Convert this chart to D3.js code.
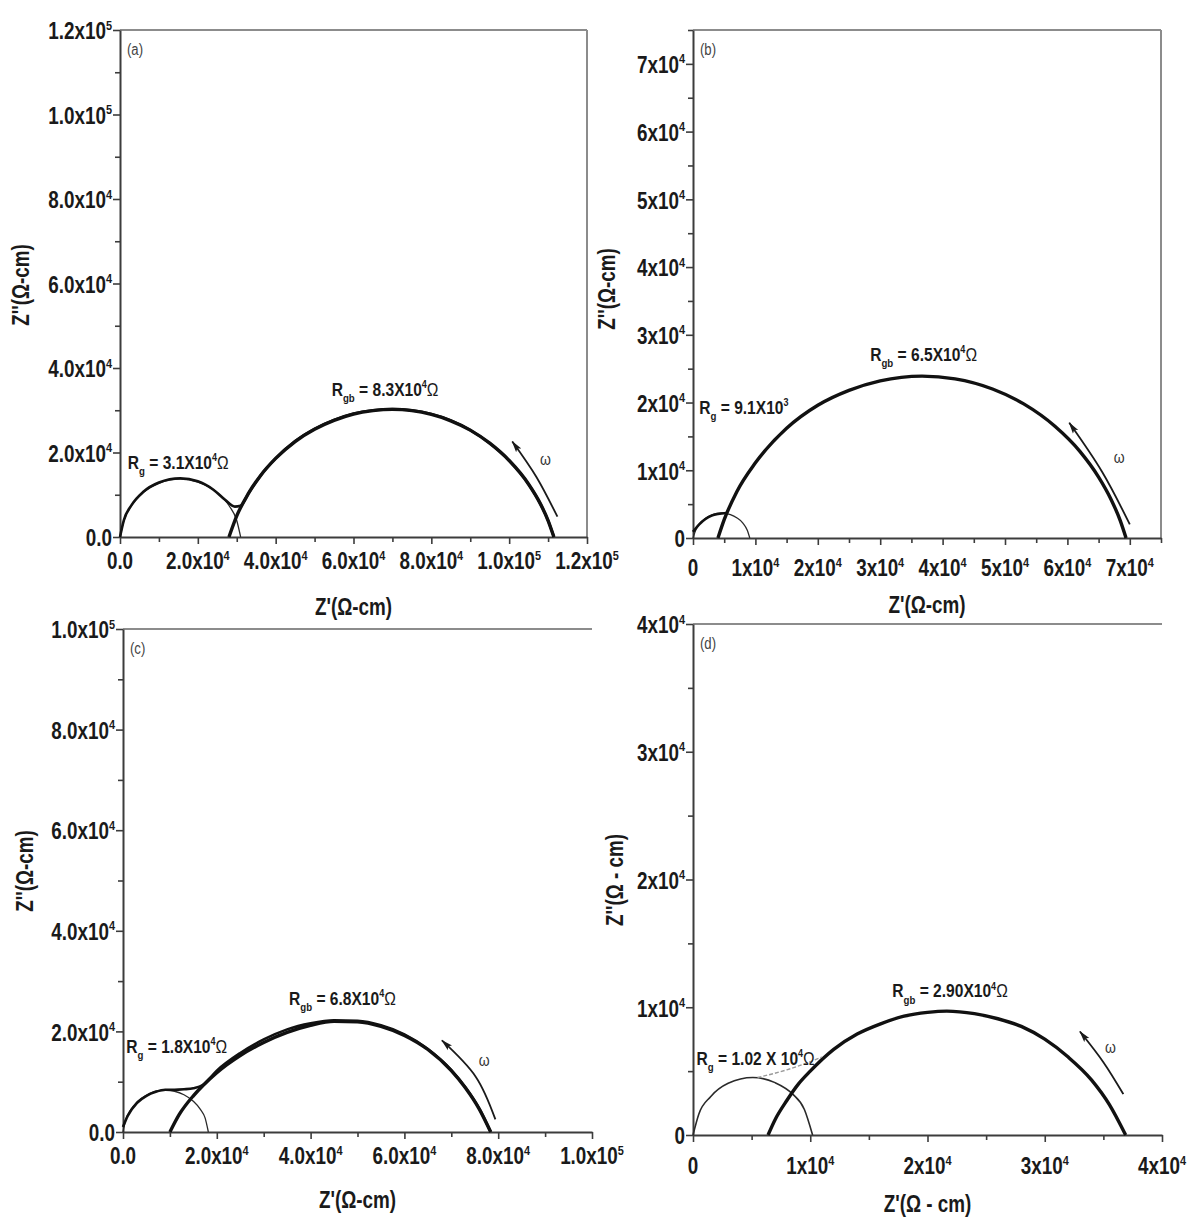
<!DOCTYPE html>
<html>
<head>
<meta charset="utf-8">
<script src="https://cdn.jsdelivr.net/npm/d3@7"></script>
<style>
  html, body { margin: 0; padding: 0; background: #fff; }
  svg { display: block; }
</style>
</head>
<body>
<svg id="fig" width="1190" height="1221"></svg>
<script>
// Impedance (Nyquist) plots, Z' vs Z'' — all values in units of 10^4 Ω·cm.

// ---------- panel (a) ----------
const aXTicks = [0, 2, 4, 6, 8, 10, 12];
const aXMinor = [1, 3, 5, 7, 9, 11];
const aYTicks = [0, 2, 4, 6, 8, 10, 12];
const aYMinor = [1, 3, 5, 7, 9, 11];
const aTickLabels = ["0.0", "2.0x10^{4}", "4.0x10^{4}", "6.0x10^{4}", "8.0x10^{4}", "1.0x10^{5}", "1.2x10^{5}"];
const aGrainArc = [[0,0],[0.1,0.39],[0.3,0.745],[0.6,1.05],[1.0,1.27],[1.55,1.37],[2.0,1.30],[2.5,1.05],[2.8,0.745],[3.0,0.39],[3.1,0]];
const aBoundaryArc = [[2.8,0],[3.0,0.50],[3.3,1.03],[3.6,1.44],[4.0,1.86],[4.5,2.26],[5.0,2.55],[5.5,2.76],[6.0,2.91],[6.5,2.99],[7.0,3.02],[7.5,2.99],[8.0,2.90],[8.5,2.75],[9.0,2.53],[9.5,2.22],[10.0,1.81],[10.5,1.25],[10.8,0.79],[11.0,0.39],[11.15,0]];
const aMeasured = [[0,0],[0.1,0.40],[0.3,0.76],[0.6,1.07],[1.0,1.29],[1.55,1.39],[2.0,1.32],[2.4,1.12],[2.7,0.88],[2.95,0.72],[3.1,0.74],[3.3,1.03],[3.6,1.44],[4.0,1.86],[4.5,2.27],[5.0,2.56],[5.5,2.77],[6.0,2.92],[6.5,3.0],[7.0,3.03],[7.5,3.0],[8.0,2.91],[8.5,2.76],[9.0,2.53],[9.5,2.22],[10.0,1.81],[10.5,1.25],[10.8,0.79],[11.0,0.39],[11.15,0]];
const aArrow = [[11.24,0.48],[10.7,1.42],[10.08,2.26]];

// ---------- panel (b) ----------
const bXTicks = [0, 1, 2, 3, 4, 5, 6, 7];
const bXMinor = [0.5, 1.5, 2.5, 3.5, 4.5, 5.5, 6.5, 7.5];
const bYTicks = [0, 1, 2, 3, 4, 5, 6, 7];
const bYMinor = [0.5, 1.5, 2.5, 3.5, 4.5, 5.5, 6.5, 7.5];
const bTickLabels = ["0", "1x10^{4}", "2x10^{4}", "3x10^{4}", "4x10^{4}", "5x10^{4}", "6x10^{4}", "7x10^{4}"];
const bGrainArc = [[0,0],[0.05,0.13],[0.1,0.205],[0.2,0.29],[0.3,0.34],[0.455,0.37],[0.6,0.345],[0.7,0.30],[0.8,0.22],[0.87,0.115],[0.91,0]];
const bBoundaryArc = [[0.40,0],[0.5,0.27],[0.7,0.68],[1.0,1.11],[1.5,1.62],[2.0,1.96],[2.5,2.18],[3.0,2.32],[3.67,2.39],[4.2,2.35],[4.8,2.20],[5.3,1.98],[5.8,1.65],[6.2,1.28],[6.5,0.90],[6.7,0.57],[6.85,0.25],[6.94,0]];
const bMeasured = [[0,0.09],[0.1,0.2],[0.2,0.28],[0.3,0.33],[0.4,0.355],[0.54,0.37]];
const bArrow = [[7.0,0.2],[6.56,0.97],[6.03,1.7]];

// ---------- panel (c) ----------
const cXTicks = [0, 2, 4, 6, 8, 10];
const cXMinor = [1, 3, 5, 7, 9];
const cYTicks = [0, 2, 4, 6, 8, 10];
const cYMinor = [1, 3, 5, 7, 9];
const cTickLabels = ["0.0", "2.0x10^{4}", "4.0x10^{4}", "6.0x10^{4}", "8.0x10^{4}", "1.0x10^{5}"];
const cGrainArc = [[0,0],[0.05,0.22],[0.15,0.42],[0.3,0.60],[0.5,0.73],[0.7,0.81],[0.91,0.83],[1.1,0.81],[1.3,0.74],[1.5,0.61],[1.65,0.45],[1.75,0.28],[1.82,0]];
const cBoundaryArc = [[1.0,0],[1.2,0.35],[1.5,0.72],[1.7,0.92],[2.0,1.18],[2.5,1.52],[3.0,1.78],[3.5,1.98],[4.0,2.12],[4.5,2.2],[5.0,2.19],[5.5,2.1],[6.0,1.92],[6.5,1.64],[7.0,1.22],[7.3,0.88],[7.6,0.45],[7.84,0]];
const cMeasured = [[0,0.1],[0.1,0.32],[0.3,0.58],[0.5,0.72],[0.7,0.80],[0.9,0.84],[1.1,0.84],[1.3,0.85],[1.5,0.87],[1.7,0.93],[2.0,1.22],[2.5,1.57],[3.0,1.84],[3.5,2.04],[4.0,2.16],[4.5,2.22],[5.0,2.21],[5.5,2.12],[6.0,1.94],[6.5,1.65],[7.0,1.23],[7.3,0.89],[7.6,0.46],[7.84,0]];
const cArrow = [[7.94,0.25],[7.52,1.1],[6.8,1.82]];

// ---------- panel (d) ----------
const dXTicks = [0, 1, 2, 3, 4];
const dXMinor = [0.5, 1.5, 2.5, 3.5];
const dYTicks = [0, 1, 2, 3, 4];
const dYMinor = [0.5, 1.5, 2.5, 3.5];
const dTickLabels = ["0", "1x10^{4}", "2x10^{4}", "3x10^{4}", "4x10^{4}"];
const dGrainArc = [[0,0],[0.05,0.165],[0.15,0.30],[0.3,0.405],[0.51,0.45],[0.7,0.41],[0.85,0.32],[0.95,0.20],[1.02,0]];
const dBoundaryArc = [[0.64,0],[0.7,0.12],[0.8,0.27],[0.9,0.40],[1.0,0.50],[1.2,0.67],[1.4,0.79],[1.6,0.87],[1.8,0.93],[2.0,0.96],[2.165,0.97],[2.4,0.95],[2.6,0.91],[2.8,0.85],[3.0,0.75],[3.2,0.61],[3.4,0.43],[3.55,0.24],[3.69,0]];
const dLink = [[0.55,0.45],[0.8,0.51],[1.1,0.61]];
const dArrow = [[3.67,0.32],[3.5,0.57],[3.3,0.81]];

// ---------- fitted resistances (annotations) ----------
const rLabels = {
  a: [{ x: 0.2,  y: 1.77, text: "R_{g} = 3.1X10^{4}~{Ω}" }, { x: 5.44, y: 3.5,  text: "R_{gb} = 8.3X10^{4}~{Ω}" }],
  b: [{ x: 0.10, y: 1.93, text: "R_{g} = 9.1X10^{3}" },      { x: 2.84, y: 2.71, text: "R_{gb} = 6.5X10^{4}~{Ω}" }],
  c: [{ x: 0.07, y: 1.70, text: "R_{g} = 1.8X10^{4}~{Ω}" }, { x: 3.54, y: 2.66, text: "R_{gb} = 6.8X10^{4}~{Ω}" }],
  d: [{ x: 0.03, y: 0.60, text: "R_{g} = 1.02 X 10^{4}~{Ω}" }, { x: 1.7, y: 1.13, text: "R_{gb} = 2.90X10^{4}~{Ω}" }]
};
const omegaPos = { a: [10.93, 1.86], b: [6.83, 1.2], c: [7.7, 1.44], d: [3.56, 0.69] };

// ---------- layout ----------
const panels = [
  { id: "a", frame: [120, 587, 537, 30],  xMax: 12,  yMax: 12, xT: aXTicks, xm: aXMinor, yT: aYTicks, ym: aYMinor, labels: aTickLabels,
    grain: aGrainArc, boundary: aBoundaryArc, measured: aMeasured, arrow: aArrow, box: true,
    yTitle: "Z''(Ω-cm)", xTitle: "Z'(Ω-cm)", yTitlePos: [21, 285], xTitleY: 607, xLabDy: 24 },
  { id: "b", frame: [693, 1161, 538, 30], xMax: 7.5, yMax: 7.5, xT: bXTicks, xm: bXMinor, yT: bYTicks, ym: bYMinor, labels: bTickLabels,
    grain: bGrainArc, boundary: bBoundaryArc, measured: bMeasured, arrow: bArrow, box: true,
    yTitle: "Z''(Ω-cm)", xTitle: "Z'(Ω-cm)", yTitlePos: [607, 289], xTitleY: 605, xLabDy: 30 },
  { id: "c", frame: [123, 592, 1132, 629], xMax: 10, yMax: 10, xT: cXTicks, xm: cXMinor, yT: cYTicks, ym: cYMinor, labels: cTickLabels,
    grain: cGrainArc, boundary: cBoundaryArc, measured: cMeasured, arrow: cArrow, box: false,
    yTitle: "Z''(Ω-cm)", xTitle: "Z'(Ω-cm)", yTitlePos: [25, 871], xTitleY: 1200, xLabDy: 24 },
  { id: "d", frame: [693, 1162, 1135, 624], xMax: 4, yMax: 4, xT: dXTicks, xm: dXMinor, yT: dYTicks, ym: dYMinor, labels: dTickLabels,
    grain: dGrainArc, boundary: dBoundaryArc, measured: null, link: dLink, arrow: dArrow, box: false,
    yTitle: "Z''(Ω - cm)", xTitle: "Z'(Ω - cm)", yTitlePos: [615, 880], xTitleY: 1204, xLabDy: 31 }
];

const svg = d3.select("#fig");

// Prefer a condensed bold face; fall back to a horizontally squeezed regular one.
function measure(family) {
  const t = svg.append("text").attr("font-family", family).attr("font-weight", "bold")
    .attr("font-size", 100).text("1.0x10Z(cm)");
  const w = t.node().getComputedTextLength();
  t.remove();
  return w;
}
const wNarrow = measure("'Liberation Sans Narrow'");
const wRegular = measure("'Liberation Sans'");
const NARROW = wNarrow < wRegular * 0.9;
const FAMILY = NARROW ? "'Liberation Sans Narrow', 'Arial Narrow', sans-serif" : "'Liberation Sans', Arial, sans-serif";
const SX = NARROW ? 1 : 0.82;

// Rich text: ^{..} superscript, _{..} subscript, ~{..} normal weight.
function richText(parent, x, y, spec, opt) {
  const size = opt.size, weight = opt.weight || "bold";
  const rot = opt.rotate ? ` rotate(${opt.rotate})` : "";
  const g = parent.append("g").attr("transform", `translate(${x},${y})${rot} scale(${SX},1)`);
  const t = g.append("text")
    .attr("font-family", FAMILY).attr("font-size", size).attr("font-weight", weight)
    .attr("text-anchor", opt.anchor || "start").attr("fill", opt.fill || "#1a1a1a");
  const parts = spec.split(/(\^\{[^}]*\}|_\{[^}]*\}|~\{[^}]*\})/).filter(s => s.length);
  let shift = 0;
  parts.forEach(p => {
    let txt = p, target = 0, fs = size, fw = null;
    if (p.startsWith("^{")) { txt = p.slice(2, -1); target = -0.42 * size; fs = 0.58 * size; }
    else if (p.startsWith("_{")) { txt = p.slice(2, -1); target = 0.32 * size; fs = 0.62 * size; }
    else if (p.startsWith("~{")) { txt = p.slice(2, -1); fw = "normal"; }
    const ts = t.append("tspan").attr("dy", target - shift).attr("font-size", fs).text(txt);
    if (fw) ts.attr("font-weight", fw);
    shift = target;
  });
  return t;
}

const defs = svg.append("defs");
defs.append("marker").attr("id", "head")
  .attr("viewBox", "0 0 12 8").attr("refX", 11).attr("refY", 4)
  .attr("markerWidth", 12).attr("markerHeight", 8).attr("markerUnits", "userSpaceOnUse")
  .attr("orient", "auto")
  .append("path").attr("d", "M0,0.8 L12,4 L0,7.2 L2.5,4 Z").attr("fill", "#1a1a1a");

const AXIS = "#3c3c3c", BORDER = "#8c8c8c";
const TICK_FS = 23;
const NOTE_FS = 19;

panels.forEach(p => {
  const [L, R, B, T] = p.frame;
  const x = d3.scaleLinear().domain([0, p.xMax]).range([L, R]);
  const y = d3.scaleLinear().domain([0, p.yMax]).range([B, T]);
  const g = svg.append("g").attr("class", "panel-" + p.id);

  // frame lines (top, and right for boxed panels)
  g.append("line").attr("x1", L).attr("x2", R).attr("y1", T).attr("y2", T)
    .attr("stroke", BORDER).attr("stroke-width", 2);
  if (p.box) g.append("line").attr("x1", R).attr("x2", R).attr("y1", T).attr("y2", B)
    .attr("stroke", BORDER).attr("stroke-width", 2);

  // axes: major + minor ticks
  const styleAxis = sel => {
    sel.selectAll("path.domain").attr("stroke", AXIS).attr("stroke-width", 2);
    sel.selectAll(".tick line").attr("stroke", AXIS).attr("stroke-width", 1.6);
  };
  g.append("g").attr("transform", `translate(0,${B})`)
    .call(d3.axisBottom(x).tickValues(p.xm).tickSize(5).tickFormat(""))
    .call(s => s.select("path.domain").remove()).call(styleAxis);
  g.append("g").attr("transform", `translate(${L},0)`)
    .call(d3.axisLeft(y).tickValues(p.ym).tickSize(5).tickFormat(""))
    .call(s => s.select("path.domain").remove()).call(styleAxis);
  g.append("g").attr("transform", `translate(0,${B})`)
    .call(d3.axisBottom(x).tickValues(p.xT).tickSize(7).tickSizeOuter(0).tickFormat(""))
    .call(styleAxis);
  g.append("g").attr("transform", `translate(${L},0)`)
    .call(d3.axisLeft(y).tickValues(p.yT).tickSize(7).tickSizeOuter(0).tickFormat(""))
    .call(styleAxis);

  // tick labels
  p.xT.forEach((v, i) => richText(g, x(v), B + p.xLabDy + 0.36 * TICK_FS, p.labels[i], { size: TICK_FS, anchor: "middle" }));
  p.yT.forEach((v, i) => richText(g, L - 8, y(v) + 1 + 0.36 * TICK_FS, p.labels[i], { size: TICK_FS, anchor: "end" }));

  // axis titles
  richText(g, (L + R) / 2, p.xTitleY + 0.36 * TICK_FS, p.xTitle, { size: TICK_FS, anchor: "middle" });
  richText(g, p.yTitlePos[0] + 0.36 * TICK_FS, p.yTitlePos[1], p.yTitle, { size: TICK_FS, anchor: "middle", rotate: -90 });

  // panel tag
  richText(g, L + 7, T + 19 + 0.36 * 16, "(" + p.id + ")", { size: 16, weight: "normal", fill: "#444" });

  // curves
  const line = d3.line().x(d => x(d[0])).y(d => y(d[1])).curve(d3.curveMonotoneX);
  g.append("path").attr("d", line(p.grain)).attr("fill", "none")
    .attr("stroke", "#2a2a2a").attr("stroke-width", p.id === "d" ? 1.6 : 1.3);
  g.append("path").attr("d", line(p.boundary)).attr("fill", "none")
    .attr("stroke", "#111").attr("stroke-width", 3.4);
  if (p.measured) g.append("path").attr("d", line(p.measured)).attr("fill", "none")
    .attr("stroke", "#111").attr("stroke-width", 2.6);
  if (p.link) g.append("path").attr("d", line(p.link)).attr("fill", "none")
    .attr("stroke", "#9a9a9a").attr("stroke-width", 1.4).attr("stroke-dasharray", "4,2");

  // frequency direction arrow
  const arrowLine = d3.line().x(d => x(d[0])).y(d => y(d[1])).curve(d3.curveNatural);
  g.append("path").attr("d", arrowLine(p.arrow)).attr("fill", "none")
    .attr("stroke", "#1a1a1a").attr("stroke-width", 1.8).attr("marker-end", "url(#head)");
  const om = omegaPos[p.id];
  richText(g, x(om[0]), y(om[1]) + 0.36 * 17, "ω", { size: 17, weight: "normal", anchor: "middle", fill: "#333" });

  // resistance labels
  rLabels[p.id].forEach(l => richText(g, x(l.x), y(l.y) + 0.36 * NOTE_FS, l.text, { size: NOTE_FS }));
});
</script>
</body>
</html>
